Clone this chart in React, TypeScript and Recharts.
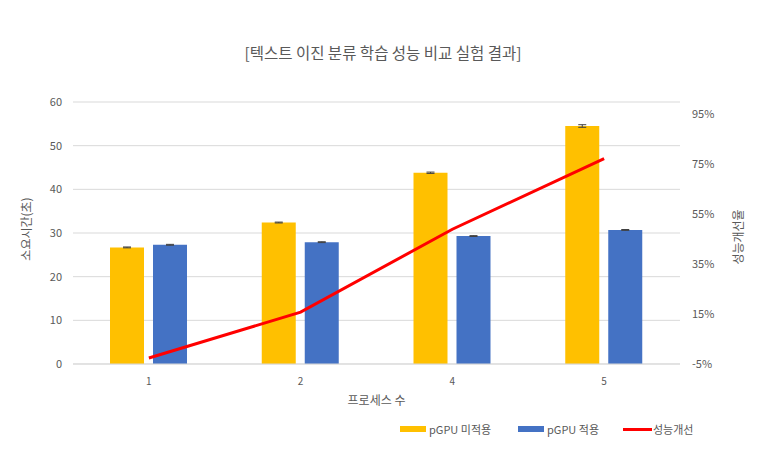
import React from "react";
import {
  ComposedChart,
  Bar,
  Line,
  XAxis,
  YAxis,
  CartesianGrid,
  Legend,
  ErrorBar,
} from "recharts";

const processCounts = ["1", "2", "4", "5"];
const timeNoGpu = [26.7, 32.4, 43.8, 54.5];
const timeGpu = [27.3, 27.9, 29.3, 30.7];
const errNoGpu = [0.1, 0.1, 0.15, 0.3];
const errGpu = [0.1, 0.1, 0.1, 0.1];
const improvement = [-2.6, 15.8, 49.0, 77.3];
const leftTicks = [0, 10, 20, 30, 40, 50, 60];
const rightTicks = [-5, 15, 35, 55, 75, 95];

const data = processCounts.map((name, i) => ({
  name,
  noGpu: timeNoGpu[i],
  gpu: timeGpu[i],
  noGpuErr: errNoGpu[i],
  gpuErr: errGpu[i],
  gain: improvement[i],
}));

const FONT = "'Noto Sans CJK KR', 'Noto Sans', sans-serif";
const TEXT = "#595959";

const AxisTitle = ({ viewBox, value, dx, dy, rotate }: any) => {
  const x = viewBox.x + viewBox.width / 2 + (dx || 0);
  const y = viewBox.y + viewBox.height / 2 + (dy || 0);
  return (
    <text
      x={x}
      y={y}
      fill={TEXT}
      fontSize={12}
      fontFamily={FONT}
      textAnchor="middle"
      dominantBaseline="central"
      transform={rotate ? `rotate(-90 ${x} ${y})` : undefined}
    >
      {value}
    </text>
  );
};

const LegendBox = ({ payload }: any) => {
  const widths = [118, 105, 100];
  return (
    <div style={{ display: "flex", paddingLeft: 400, fontFamily: FONT, fontSize: 11, color: TEXT }}>
      {(payload || []).map((item: any, i: number) => (
        <div key={item.value} style={{ width: widths[i], display: "flex", alignItems: "center" }}>
          {item.type === "line" ? (
            <span style={{ display: "inline-block", width: 29, height: 3, background: item.color, marginRight: 1 }} />
          ) : (
            <span style={{ display: "inline-block", width: 26, height: 6, background: item.color, marginRight: 3 }} />
          )}
          <span>{item.value}</span>
        </div>
      ))}
    </div>
  );
};

export default function App() {
  return (
    <div style={{ position: "absolute", left: 0, top: 0, width: 766, height: 451, background: "#fff" }}>
      <div
        style={{
          position: "absolute",
          top: 40,
          left: 0,
          width: 766,
          textAlign: "center",
          fontFamily: FONT,
          fontSize: 15.5,
          color: TEXT,
          lineHeight: "24px",
        }}
      >
        [텍스트 이진 분류 학습 성능 비교 실험 결과]
      </div>
      <ComposedChart
        width={766}
        height={451}
        data={data}
        margin={{ top: 102, right: 0, left: 0, bottom: 15 }}
        barSize={34}
        barGap={9}
      >
        <CartesianGrid vertical={false} stroke="#d9d9d9" yAxisId="left" />
        <XAxis
          dataKey="name"
          height={50}
          tickLine={false}
          axisLine={{ stroke: "#d9d9d9" }}
          tick={{ fill: TEXT, fontSize: 10, fontFamily: FONT }}
          tickMargin={8}
          label={<AxisTitle value="프로세스 수" dy={10} />}
        />
        <YAxis
          yAxisId="left"
          width={73}
          domain={[0, 60]}
          ticks={leftTicks}
          axisLine={false}
          tickLine={false}
          tickSize={0}
          tickMargin={11}
          tick={{ fill: TEXT, fontSize: 11, fontFamily: FONT }}
          label={<AxisTitle value="소요시간(초)" dx={-11.5} dy={-4} rotate />}
        />
        <YAxis
          yAxisId="right"
          orientation="right"
          width={86}
          domain={[-5, 100]}
          ticks={rightTicks}
          tickFormatter={(v: number) => `${v}%`}
          axisLine={false}
          tickLine={false}
          tickSize={0}
          tickMargin={12}
          tick={{ fill: TEXT, fontSize: 11, fontFamily: FONT }}
          label={<AxisTitle value="성능개선율" dx={14} dy={4} rotate />}
        />
        <Bar yAxisId="left" dataKey="noGpu" name="pGPU 미적용" fill="#FFC000" isAnimationActive={false}>
          <ErrorBar dataKey="noGpuErr" width={4} stroke="#404040" strokeWidth={1} />
        </Bar>
        <Bar yAxisId="left" dataKey="gpu" name="pGPU 적용" fill="#4472C4" isAnimationActive={false}>
          <ErrorBar dataKey="gpuErr" width={4} stroke="#404040" strokeWidth={1} />
        </Bar>
        <Line
          yAxisId="right"
          dataKey="gain"
          name="성능개선"
          type="linear"
          stroke="#FF0000"
          strokeWidth={3}
          dot={false}
          isAnimationActive={false}
        />
        <Legend
          content={<LegendBox />}
          wrapperStyle={{ position: "absolute", top: 421, left: 0, width: 766, height: 22 }}
        />
      </ComposedChart>
    </div>
  );
}
